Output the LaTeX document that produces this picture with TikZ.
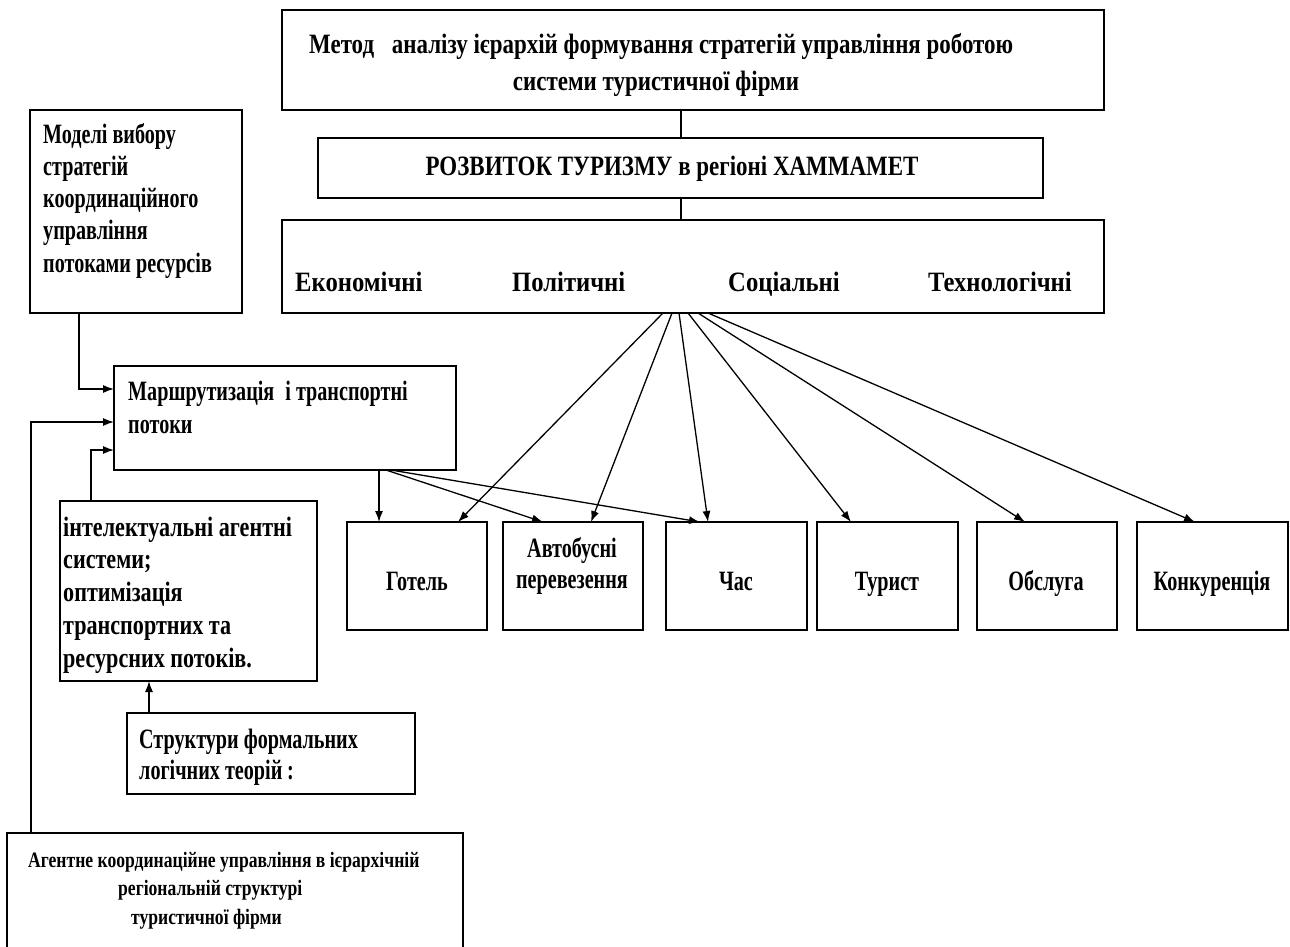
\documentclass[tikz,border=0pt]{standalone}
\usepackage{fontspec}
\setmainfont{Liberation Serif}[FakeStretch=0.86]
\newfontfamily\fA{Liberation Serif}[FakeStretch=0.82]
\newfontfamily\fB{Liberation Serif}[FakeStretch=0.88]
\newfontfamily\fC{Liberation Serif}[FakeStretch=0.72]
\newfontfamily\fD{Liberation Serif}[FakeStretch=0.79]
\newfontfamily\fE{Liberation Serif}[FakeStretch=0.80]
\usetikzlibrary{arrows.meta}
\begin{document}
\begin{tikzpicture}[x=1pt,y=-1pt,
  box/.style={draw, line width=1.5pt, inner sep=0pt, outer sep=0pt, anchor=north west},
  txt/.style={inner sep=0pt, align=left, anchor=base west},
  ctxt/.style={inner sep=0pt, anchor=base},
  conn/.style={line width=1.3pt},
  arr/.style={line width=1.3pt, -{Latex[length=11pt,width=8pt]}}]
\useasboundingbox (0,0) rectangle (1290,946);
\fill[white] (0,0) rectangle (1290,946);
% boxes
\node[box, minimum width=822, minimum height=100] (top) at (282,10) {};
\node[box, minimum width=725, minimum height=60] (rozv) at (318,138) {};
\node[box, minimum width=822, minimum height=93] (fact) at (282,220) {};
\node[box, minimum width=212, minimum height=203] (modeli) at (30,110) {};
\node[box, minimum width=342, minimum height=104] (marsh) at (114,366) {};
\node[box, minimum width=257, minimum height=180] (intel) at (60,501) {};
\node[box, minimum width=288, minimum height=81] (struct) at (127,713) {};
\node[box, minimum width=456, minimum height=140] (agent) at (7,833) {};
\node[box, minimum width=140, minimum height=108] (gotel) at (347,522) {};
\node[box, minimum width=140, minimum height=108] (avto) at (503,522) {};
\node[box, minimum width=141, minimum height=108] (chas) at (666,522) {};
\node[box, minimum width=141, minimum height=108] (tur) at (817,522) {};
\node[box, minimum width=140, minimum height=108] (obsl) at (977,522) {};
\node[box, minimum width=151, minimum height=108] (konk) at (1137,522) {};
% texts
\node[txt, font=\fA\fontsize{28}{32}\selectfont\bfseries] (ttop1) at (309,53) {Метод\hspace{12pt} аналізу ієрархій формування стратегій управління роботою};
\node[ctxt, font=\fA\fontsize{28}{32}\selectfont\bfseries] (ttop2) at (656,90) {системи туристичної фірми};
\node[ctxt, font=\fA\fontsize{28}{32}\selectfont\bfseries] (trozv) at (672,175) {РОЗВИТОК ТУРИЗМУ в регіоні ХАММАМЕТ};
\node[txt, font=\fB\fontsize{28}{32}\selectfont\bfseries] (te) at (295,291) {Економічні};
\node[txt, font=\fB\fontsize{28}{32}\selectfont\bfseries] (tp) at (512,291) {Політичні};
\node[txt, font=\fB\fontsize{28}{32}\selectfont\bfseries] (ts) at (728,291) {Соціальні};
\node[txt, font=\fB\fontsize{28}{32}\selectfont\bfseries] (tt) at (928,291) {Технологічні};
\node[txt, font=\fC\fontsize{28}{32.2}\selectfont\bfseries] (tmod) at (43,272) {Моделі вибору\\стратегій\\координаційного\\управління\\потоками ресурсів};
\node[txt, font=\fC\fontsize{28}{33}\selectfont\bfseries] (tmar) at (128,433) {Маршрутизація\hspace{6pt} і транспортні\\потоки};
\node[txt, font=\fD\fontsize{28}{32.75}\selectfont\bfseries] (tint) at (63,667) {інтелектуальні агентні\\системи;\\оптимізація\\транспортних та\\ресурсних потоків.};
\node[txt, font=\fC\fontsize{28}{31}\selectfont\bfseries] (tstr) at (139,779) {Структури формальних\\логічних теорій\,:};
\node[txt, font=\fE\fontsize{22}{28.5}\selectfont\bfseries] (tag) at (28,924) {Агентне координаційне управління в ієрархічній\\\hspace*{90pt}регіональній структурі\\\hspace*{103pt}туристичної фірми};
\node[ctxt, font=\fC\fontsize{28}{31}\selectfont\bfseries] (tgot) at (417,590) {Готель};
\node[ctxt, align=center, font=\fC\fontsize{28}{31}\selectfont\bfseries] (tavt) at (572,588) {Автобусні\\перевезення};
\node[ctxt, font=\fC\fontsize{28}{31}\selectfont\bfseries] (tchas) at (736,590) {Час};
\node[ctxt, font=\fC\fontsize{28}{31}\selectfont\bfseries] (ttur) at (887,590) {Турист};
\node[ctxt, font=\fC\fontsize{28}{31}\selectfont\bfseries] (tobs) at (1046,590) {Обслуга};
\node[ctxt, font=\fC\fontsize{28}{31}\selectfont\bfseries] (tkon) at (1212,590) {Конкуренція};
% coordinates
\coordinate (c1) at (681,0);
\coordinate (o1) at (663,0);
\coordinate (o2) at (672,0);
\coordinate (o3) at (679,0);
\coordinate (o4) at (688,0);
\coordinate (o5) at (698,0);
\coordinate (o6) at (708,0);
\coordinate (t1) at (458,0);
\coordinate (t2) at (591,0);
\coordinate (t3) at (708,0);
\coordinate (t4) at (851,0);
\coordinate (t5) at (1025,0);
\coordinate (t6) at (1195,0);
\coordinate (m1) at (379,0);
\coordinate (m2) at (386,0);
\coordinate (m3) at (391,0);
\coordinate (u1) at (543,0);
\coordinate (u2) at (700,0);
\coordinate (ya) at (0,389);
\coordinate (yb) at (0,422);
\coordinate (yc) at (0,450);
\coordinate (xa) at (79,0);
\coordinate (xb) at (31,0);
\coordinate (xc) at (91,0);
\coordinate (xd) at (149,0);
% connectors
\draw[conn] (top.south -| c1) -- (rozv.north -| c1);
\draw[conn] (rozv.south -| c1) -- (fact.north -| c1);
\draw[arr] (fact.south -| o1) -- (gotel.north -| t1);
\draw[arr] (fact.south -| o2) -- (avto.north -| t2);
\draw[arr] (fact.south -| o3) -- (chas.north -| t3);
\draw[arr] (fact.south -| o4) -- (tur.north -| t4);
\draw[arr] (fact.south -| o5) -- (obsl.north -| t5);
\draw[arr] (fact.south -| o6) -- (konk.north -| t6);
\draw[arr] (marsh.south -| m1) -- (gotel.north -| m1);
\draw[arr] (marsh.south -| m2) -- (avto.north -| u1);
\draw[arr] (marsh.south -| m3) -- (chas.north -| u2);
\draw[arr] (modeli.south -| xa) |- (marsh.west |- ya);
\draw[arr] (agent.north -| xb) |- (marsh.west |- yb);
\draw[arr] (intel.north -| xc) |- (marsh.west |- yc);
\draw[arr] (struct.north -| xd) -- (intel.south -| xd);
\end{tikzpicture}
\end{document}
